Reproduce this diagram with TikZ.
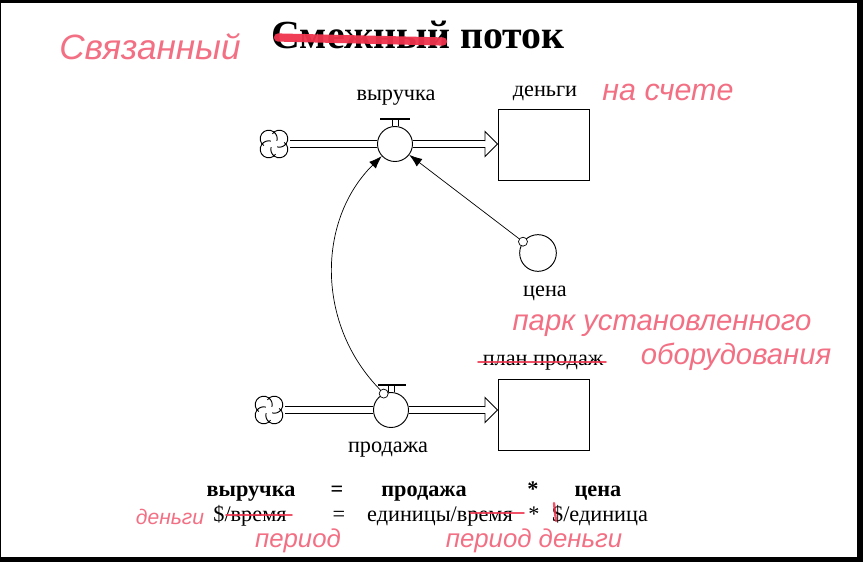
\documentclass[tikz,border=0pt]{standalone}
\usepackage{fontspec}
\setmainfont{Liberation Serif}
\newfontfamily\handfont{Liberation Sans}
\usetikzlibrary{arrows.meta,positioning,calc}
\definecolor{Ink}{HTML}{000000}
\definecolor{Marker}{HTML}{F0344E}
\definecolor{Pencil}{HTML}{F0566E}
\tikzset{
  >={Latex[length=11pt,width=8pt]},
  stock/.style={rectangle,draw=Ink,line width=.8pt,fill=white,minimum width=2.73cm,minimum height=2.13cm},
  valve/.style={circle,draw=Ink,line width=.8pt,fill=white,minimum size=1.05cm,inner sep=0pt},
  aux/.style={valve,minimum size=1.1cm},
  knob/.style={circle,draw=Ink,line width=.6pt,fill=white,minimum size=.27cm,inner sep=0pt},
  source/.style={circle,draw=none,minimum size=.96cm,inner sep=0pt},
  puff/.style={draw=Ink,line width=.8pt},
  pipe/.style={draw=Ink,line width=.8pt,double=white,double distance=4.4pt},
  head/.style={draw=Ink,line width=.8pt,line join=miter},
  link/.style={->,draw=Ink,line width=.6pt},
  lab/.style={font=\fontsize{19}{22}\selectfont,inner sep=0pt,anchor=base},
  eqn/.style={lab,font=\bfseries\fontsize{19}{22}\selectfont},
  hand/.style={text=Pencil,font=\handfont\itshape,inner sep=0pt,opacity=.85},
  strike/.style={draw=Marker,line width=1.5pt,line cap=round,opacity=.85}
}

\begin{document}
\begin{tikzpicture}[x=0.03cm,y=-0.03cm]
  \useasboundingbox (0,0) rectangle (863,562);
  % frame
  \fill[Ink] (0,0) rectangle (863,3);
  \fill[Ink] (0,0) rectangle (1.2,562);
  \fill[Ink] (857,0) rectangle (863,562);
  \fill[Ink] (0,556.5) rectangle (863,562);

  \node[anchor=base,inner sep=0pt,font=\bfseries\fontsize{34}{38}\selectfont] (title) at (418,49) {Смежный поток};

  % upper flow
  \node[source] (src1) at (274,144) {};
  \node[valve] (rev) at (395,144) {};
  \node[stock] (money) at (543.5,144.5) {};
  \coordinate (tip1) at (485,144);
  \draw[pipe] (src1) -- (rev);
  \draw[pipe] (rev) -- (tip1);
  \draw[head] ($(tip1)+(0,-3)$) -- ($(tip1)+(0,-12.5)$) -- (tip1 -| money.west) -- ($(tip1)+(0,12.5)$) -- ($(tip1)+(0,3)$);
  \draw[line width=.8pt] ($(rev.north)+(-3,0)$) -- ++(0,-7.5) ($(rev.north)+(3,0)$) -- ++(0,-7.5);
  \draw[line width=1.7pt] ($(rev.north)+(-15,-7.5)$) -- ++(30,0);
  \node[lab] (revlab) at (396,100.5) {выручка};
  \node[lab] (moneylab) at (545,96.5) {деньги};

  % price
  \node[aux] (price) at (538,253) {};
  \node[knob] (pricek) at (price.143) {};
  \node[lab] (pricelab) at (545,296) {цена};
  \draw[link] (pricek) -- (rev);

  % lower flow
  \node[source] (src2) at (269,410) {};
  \node[valve] (sales) at (391,410) {};
  \node[stock] (plan) at (543.5,414.5) {};
  \coordinate (tip2) at (485,410);
  \draw[pipe] (src2) -- (sales);
  \draw[pipe] (sales) -- (tip2);
  \draw[head] ($(tip2)+(0,-3)$) -- ($(tip2)+(0,-12.5)$) -- (tip2 -| plan.west) -- ($(tip2)+(0,12.5)$) -- ($(tip2)+(0,3)$);
  \draw[line width=.8pt] ($(sales.north)+(-3,0)$) -- ++(0,-7.5) ($(sales.north)+(3,0)$) -- ++(0,-7.5);
  \draw[line width=1.7pt] ($(sales.north)+(-13,-7.5)$) -- ++(28,0);
  \node[knob] (salesk) at (sales.114) {};
  \node[lab] (saleslab) at (388,452.5) {продажа};
  \node[lab] (planlab) at (543,365.5) {план продаж};
  \draw[link] (salesk) to[bend left=45] (rev);

  % clouds
  \foreach \c in {src1,src2}
    \foreach \a in {45,135,225,315}
      \draw[puff] ($(\c)+(\a:7.5)$) ++(\a-100:8.5) arc[start angle=\a-100,end angle=\a+150,radius=8.5];

  % equation
  \node[eqn] (e1) at (251,496) {выручка};
  \node[eqn] (e2) at (337,496) {=};
  \node[eqn] (e3) at (424,496) {продажа};
  \node[eqn] (e4) at (533,496) {*};
  \node[eqn] (e5) at (598,496) {цена};
  \node[lab] (u1) at (250,521) {\$/время};
  \node[lab] (u2) at (339,521) {=};
  \node[lab] (u3) at (440,521) {единицы/время};
  \node[lab] (u4) at (534,521) {*};
  \node[lab] (u5) at (600,521) {\$/единица};

  % red pen
  \draw[strike,line width=7pt,opacity=.95] (278,37.5) -- (443,41.5);
  \draw[strike] (478,362) -- (606,362);
  \draw[strike] (226,515) -- (292,515);
  \draw[strike] (470,513) -- (524,513);
  \draw[strike,line width=2pt] (554,503) -- (556,521);
  \node[hand,font=\handfont\itshape\fontsize{30}{34}\selectfont] (n1) at (150,47) {Связанный};
  \node[hand,font=\handfont\itshape\fontsize{26}{30}\selectfont] (n2) at (668,92) {на счете};
  \node[hand,font=\handfont\itshape\fontsize{25}{29}\selectfont] (n3) at (662,326) {парк установленного};
  \node[hand,font=\handfont\itshape\fontsize{25}{29}\selectfont] (n4) at (736,357) {оборудования};
  \node[hand,font=\handfont\itshape\fontsize{18}{22}\selectfont] (n5) at (170,517) {деньги};
  \node[hand,font=\handfont\itshape\fontsize{22}{26}\selectfont] (n6) at (298,541) {период};
  \node[hand,font=\handfont\itshape\fontsize{22}{26}\selectfont] (n7) at (534,541) {период деньги};
\end{tikzpicture}
\end{document}
